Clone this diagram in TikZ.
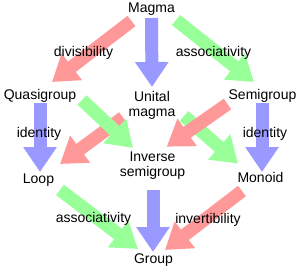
\documentclass[tikz,border=0pt]{standalone}
\usepackage{fontspec}
\setmainfont{Liberation Sans}
\usetikzlibrary{arrows.meta,calc,backgrounds}
\definecolor{cred}{RGB}{255,153,153}
\definecolor{cblue}{RGB}{153,153,255}
\definecolor{cgreen}{RGB}{153,255,153}
\tikzset{
  lbl/.style={inner sep=0pt,anchor=base,font=\fontsize{14}{15}\selectfont,align=center},
  bigarrow/.style={line width=13pt,line cap=butt,-{Triangle[length=25pt,width=32pt]}},
  redarrow/.style={bigarrow,draw=cred,color=cred},
  bluearrow/.style={bigarrow,draw=cblue,color=cblue},
  greenarrow/.style={bigarrow,draw=cgreen,color=cgreen}
}
\begin{document}
\begin{tikzpicture}[x=1pt,y=-1pt]
\useasboundingbox (0,0) rectangle (300,271);
% objects
\node[lbl] (magma) at (151.5,12) {Magma};
\node[lbl] (quasi) at (40,99) {Quasigroup};
\node[lbl] (semi) at (262.5,99) {Semigroup};
\node[lbl] (unital) at (152,116) {Unital\\magma};
\node[lbl] (inverse) at (152.5,176.5) {Inverse\\semigroup};
\node[lbl] (loop) at (38.5,183) {Loop};
\node[lbl] (monoid) at (260.5,182.5) {Monoid};
\node[lbl] (group) at (153.5,263.5) {Group};
% labels
\node[lbl] (ldiv) at (83.5,56) {divisibility};
\node[lbl] (lassoc1) at (213.5,56) {associativity};
\node[lbl] (lid1) at (39,137) {identity};
\node[lbl] (lid2) at (265,137) {identity};
\node[lbl] (lassoc2) at (93.5,222.5) {associativity};
\node[lbl] (linv) at (208,223) {invertibility};
% arrows
\begin{scope}[on background layer]
\draw[redarrow] ($(magma.base)+(-20,9)$) -- ($(quasi.base)+(12,-17)$);
\draw[bluearrow] ($(magma.base)+(0,6)$) -- ($(unital.base)+(0,-29)$);
\draw[greenarrow] ($(magma.base)+(24.5,8)$) -- ($(semi.base)+(-8.5,-17)$);
\draw[bluearrow] ($(quasi.base)+(0,4)$) -- ($(loop.base)+(1.5,-11)$);
\draw[bluearrow] ($(semi.base)+(-0.5,4)$) -- ($(monoid.base)+(1.5,-10.5)$);
\draw[redarrow] ($(unital.base)+(-29,1.5)$) -- ($(loop.base)+(21.5,-19)$);
\draw[greenarrow] ($(quasi.base)+(42,1)$) -- ($(inverse.base)+(-19.5,-28.5)$);
\draw[greenarrow] ($(unital.base)+(32,0)$) -- ($(monoid.base)+(-22.5,-19)$);
\draw[redarrow] ($(semi.base)+(-35,5)$) -- ($(inverse.base)+(14.2,-29.8)$);
\draw[bluearrow] ($(inverse.base)+(0.5,13.5)$) -- ($(group.base)+(-0.5,-11.5)$);
\draw[greenarrow] ($(loop.base)+(21.5,7)$) -- ($(group.base)+(-15.5,-14.5)$);
\draw[redarrow] ($(monoid.base)+(-18.5,8.5)$) -- ($(group.base)+(11.5,-13.5)$);
\end{scope}
\end{tikzpicture}
\end{document}
